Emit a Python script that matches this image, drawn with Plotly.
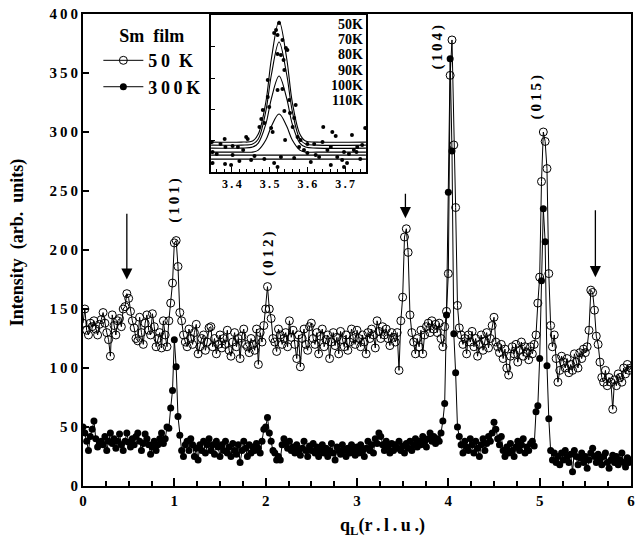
import numpy as np
import plotly.graph_objects as go

# ---------------- data ----------------
q = np.round(np.arange(0, 301) * 0.02, 2)

i50 = [
    138,150,132,128,138,135,140,133,128,137,141,147,138,130,124,110,145,136,128,140,
    142,135,150,152,163,159,148,140,134,125,123,143,130,120,138,145,132,128,146,135,
    118,125,130,117,140,128,118,140,155,172,
    206,208,186,147,140,128,122,118,133,125,120,130,137,112,118,125,128,115,122,134,
    135,118,125,112,120,128,117,125,120,132,115,110,122,130,118,125,108,127,133,120,
    118,113,125,120,115,133,103,130,122,136,
    150,169,150,142,125,122,114,133,128,120,125,130,118,140,126,132,120,108,128,101,
    125,133,120,115,135,138,125,120,130,112,127,133,118,124,128,108,122,130,119,126,
    112,131,124,118,128,115,122,133,125,120,
    132,125,118,128,122,112,130,125,133,128,117,140,131,125,135,128,133,125,119,130,
    126,122,130,98,140,160,211,218,198,145,130,122,112,125,118,132,112,128,135,138,
    130,140,133,137,130,138,125,118,135,148,
    180,348,378,289,236,153,134,128,120,125,112,128,122,131,118,125,110,120,128,115,
    123,130,117,125,136,143,122,118,113,120,108,116,100,94,110,118,112,120,105,115,
    122,110,118,113,107,118,112,120,128,155,
    177,258,300,292,269,180,136,118,128,108,88,98,110,105,100,108,96,103,98,112,
    105,100,113,108,116,113,118,132,166,164,149,127,120,105,92,88,98,85,92,88,
    65,90,85,95,92,88,100,95,103,98,
    100,
]

i300 = [
    50,45,38,30,42,48,55,40,33,36,38,35,42,30,38,45,36,40,32,38,
    44,35,30,38,45,37,33,40,35,42,45,38,30,36,44,40,35,27,33,38,
    30,35,40,45,36,40,50,49,66,81,
    124,101,59,43,30,25,35,38,30,40,35,25,32,22,35,30,38,28,35,40,
    30,35,27,38,33,25,35,30,38,28,33,25,36,30,27,35,20,30,38,32,
    25,35,28,33,30,36,32,28,38,48,
    50,58,45,38,30,28,22,25,22,35,40,36,32,38,30,33,28,35,30,26,
    32,38,30,25,34,30,36,28,33,25,30,35,28,32,25,30,36,28,22,33,
    30,27,35,30,25,32,28,35,30,26,
    33,28,35,30,25,32,38,30,35,28,40,36,45,42,35,30,38,33,28,36,
    30,35,32,38,30,34,28,36,32,38,30,35,40,33,38,35,42,38,33,40,
    45,38,42,36,40,38,45,55,70,145,
    249,362,284,129,96,50,42,35,28,38,33,30,40,35,28,38,32,25,35,40,
    30,36,42,38,45,54,48,40,35,42,30,25,33,28,36,30,25,33,38,30,
    35,40,28,33,30,36,38,34,63,68,
    108,174,235,207,102,57,30,22,28,20,25,18,28,22,30,25,20,27,12,30,
    25,18,24,28,20,25,15,22,28,32,25,20,27,22,18,25,28,20,15,22,
    26,20,25,18,22,28,20,16,24,20,
    22,
]

# inset: fitted peaks
fit_q = [3.345, 3.425, 3.455, 3.47, 3.49, 3.505, 3.525, 3.545, 3.56, 3.58, 3.595, 3.625, 3.755]
fit_50K = [30, 30, 31, 38, 70, 114, 151, 114, 70, 38, 31, 30, 30]
fit_70K = [27, 27, 28, 33, 61, 98, 130, 98, 61, 33, 28, 27, 27]
fit_80K = [24, 24, 25, 29, 48, 74, 96, 74, 48, 29, 25, 24, 24]
fit_90K = [20, 20, 20, 22, 32, 46, 58, 46, 32, 22, 20, 20, 20]
flat_q = [3.345, 3.755]
fit_100K = [17, 17]
fit_110K = [13, 13]

pts_q = [3.347, 3.381, 3.383, 3.349, 3.349, 3.382, 3.398, 3.402, 3.416, 3.402, 3.42,
         3.438, 3.442, 3.478, 3.473, 3.482, 3.486, 3.495, 3.495, 3.499, 3.504, 3.508,
         3.512, 3.517, 3.521, 3.525, 3.53, 3.521, 3.521, 3.534, 3.537, 3.539, 3.539,
         3.534, 3.543, 3.547, 3.541, 3.552, 3.554, 3.561, 3.565, 3.569, 3.574, 3.578,
         3.582, 3.591, 3.6, 3.609, 3.622, 3.631, 3.642, 3.653, 3.662, 3.666, 3.675,
         3.679, 3.692, 3.697, 3.705, 3.718, 3.723, 3.732, 3.74, 3.745, 3.753, 3.697,
         3.662, 3.618, 3.512, 3.521, 3.486, 3.451, 3.53, 3.565, 3.36, 3.37, 3.43,
         3.46, 3.6, 3.64, 3.71, 3.73]
pts_i = [30, 33, 25, 20, 9, 8, 7, 26, 25, 17, 11,
         35, 33, 53, 45, 62, 49, 75, 92, 65, 44, 40,
         139, 142, 137, 149, 117, 82, 118, 132, 112, 102, 61,
         83, 124, 122, 32, 72, 59, 45, 54, 67, 35, 25,
         32, 22, 19, 10, 17, 15, 45, 22, 7, 40, 36,
         15, 12, 20, 9, 37, 22, 25, 13, 27, 44, 5,
         25, 28, 9, 5, 13, 12, 15, 14, 18, 28, 22,
         16, 28, 30, 18, 20]

inset_labels = ["50K", "70K", "80K", "90K", "100K", "110K"]
inset_label_y = [147, 132, 117, 102, 87, 72]

peak_labels = ["(101)", "(012)", "(104)", "(015)"]
peak_label_q = [1.0, 2.03, 3.88, 4.97]
peak_label_i = [242, 197, 372, 330]

arrow_q = [0.48, 3.53, 5.61]
arrow_tail = [232, 249, 235]
arrow_tip = [175, 227, 177]

y_ticks = [0, 50, 100, 150, 200, 250, 300, 350, 400]
x_ticks = [0, 1, 2, 3, 4, 5, 6]
inset_x_ticks = [3.4, 3.5, 3.6, 3.7]

# ---------------- figure ----------------
SERIF = "Liberation Serif"
TS = "\u2009"


def spaced(s):
    return TS.join(list(s))


fig = go.Figure()

fig.add_trace(go.Scatter(
    x=q, y=i50, mode="lines+markers", name=spaced("50") + "\u2002K",
    line=dict(color="black", width=1),
    marker=dict(symbol="circle-open", size=8, color="black", line=dict(width=1)),
))
fig.add_trace(go.Scatter(
    x=q, y=i300, mode="lines+markers", name=spaced("300K"),
    line=dict(color="black", width=1),
    marker=dict(symbol="circle", size=7, color="black"),
))

# inset traces
for yy in [fit_50K, fit_70K, fit_80K, fit_90K]:
    fig.add_trace(go.Scatter(x=fit_q, y=yy, mode="lines", xaxis="x2", yaxis="y2",
                             line=dict(color="black", width=1.1, shape="spline"),
                             showlegend=False, hoverinfo="skip"))
for yy in [fit_100K, fit_110K]:
    fig.add_trace(go.Scatter(x=flat_q, y=yy, mode="lines", xaxis="x2", yaxis="y2",
                             line=dict(color="black", width=1.1),
                             showlegend=False, hoverinfo="skip"))
fig.add_trace(go.Scatter(x=pts_q, y=pts_i, mode="markers", xaxis="x2", yaxis="y2",
                         marker=dict(symbol="circle", size=4, color="black"),
                         showlegend=False))

annotations = []
for t, xq, yi in zip(peak_labels, peak_label_q, peak_label_i):
    annotations.append(dict(x=xq, y=yi, xref="x", yref="y", text=spaced(t),
                            showarrow=False, textangle=-90,
                            xanchor="center", yanchor="middle",
                            font=dict(family=SERIF, size=15, color="black", weight="bold")))
for xq, yt, yh in zip(arrow_q, arrow_tail, arrow_tip):
    annotations.append(dict(x=xq, y=yh, ax=xq, ay=yt, xref="x", yref="y",
                            axref="x", ayref="y", text="", showarrow=True,
                            arrowhead=2, arrowsize=1.7, arrowwidth=1.3,
                            arrowcolor="black"))
for t, yy in zip(inset_labels, inset_label_y):
    annotations.append(dict(x=3.752, y=yy, xref="x2", yref="y2", text=t,
                            showarrow=False, xanchor="right",
                            font=dict(family=SERIF, size=14, color="black", weight="bold")))
# axis titles
annotations.append(dict(x=-0.118, y=0.517, xref="paper", yref="paper",
                        xanchor="center", yanchor="middle",
                        text="Intensity  (arb.  units)", showarrow=False, textangle=-90,
                        font=dict(family=SERIF, size=18, color="black", weight="bold")))
annotations.append(dict(x=0.547, y=-0.058, xref="paper", yref="paper",
                        xanchor="center", yanchor="top",
                        text="q<sub>L</sub>(" + spaced("r.l.u.") + ")", showarrow=False,
                        font=dict(family=SERIF, size=18, color="black", weight="bold")))

fig.update_layout(
    width=638, height=541,
    margin=dict(l=83, r=3, t=14, b=55),
    paper_bgcolor="white", plot_bgcolor="white",
    showlegend=True,
    legend=dict(x=0.028, y=0.99, xanchor="left", yanchor="top",
                bgcolor="rgba(0,0,0,0)",
                title=dict(text="Sm\u00a0\u00a0film", side="top center",
                           font=dict(family=SERIF, size=18, color="black", weight="bold")),
                font=dict(family=SERIF, size=18, color="black", weight="bold"),
                itemwidth=40, tracegroupgap=0),
    xaxis=dict(range=[0, 6], tickvals=x_ticks, ticktext=[str(v) for v in x_ticks],
               ticks="inside", ticklen=8, tickwidth=1.5, tickcolor="black",
               minor=dict(dtick=0.25, ticks="inside", ticklen=5, tickcolor="black"),
               showline=True, linewidth=2, linecolor="black", mirror=True,
               showgrid=False, zeroline=False,
               tickfont=dict(family=SERIF, size=15, color="black", weight="bold")),
    yaxis=dict(range=[0, 400], tickvals=y_ticks, ticktext=[spaced(str(v)) for v in y_ticks],
               ticks="inside", ticklen=6, tickwidth=1.5, tickcolor="black",
               showline=True, linewidth=2, linecolor="black", mirror=True,
               showgrid=False, zeroline=False,
               tickfont=dict(family=SERIF, size=15, color="black", weight="bold")),
    xaxis2=dict(domain=[0.2337, 0.5163], anchor="y2", range=[3.345, 3.755],
                tickvals=inset_x_ticks, ticktext=[spaced(f"{v:.1f}") for v in inset_x_ticks],
                ticks="inside", ticklen=5, tickcolor="black",
                minor=dict(dtick=0.02, ticks="inside", ticklen=3, tickcolor="black"),
                showline=True, linewidth=1.5, linecolor="black", mirror=True,
                showgrid=False, zeroline=False,
                tickfont=dict(family=SERIF, size=12, color="black", weight="bold")),
    yaxis2=dict(domain=[0.665, 0.998], anchor="x2", range=[0, 157],
                tickvals=[32, 63, 94, 125], showticklabels=False,
                ticks="inside", ticklen=4, tickcolor="black",
                showline=True, linewidth=1.5, linecolor="black", mirror=True,
                showgrid=False, zeroline=False),
    annotations=annotations,
)

fig.write_html("out.html", config={"displayModeBar": False},
               post_script="document.body.style.margin='0';")
